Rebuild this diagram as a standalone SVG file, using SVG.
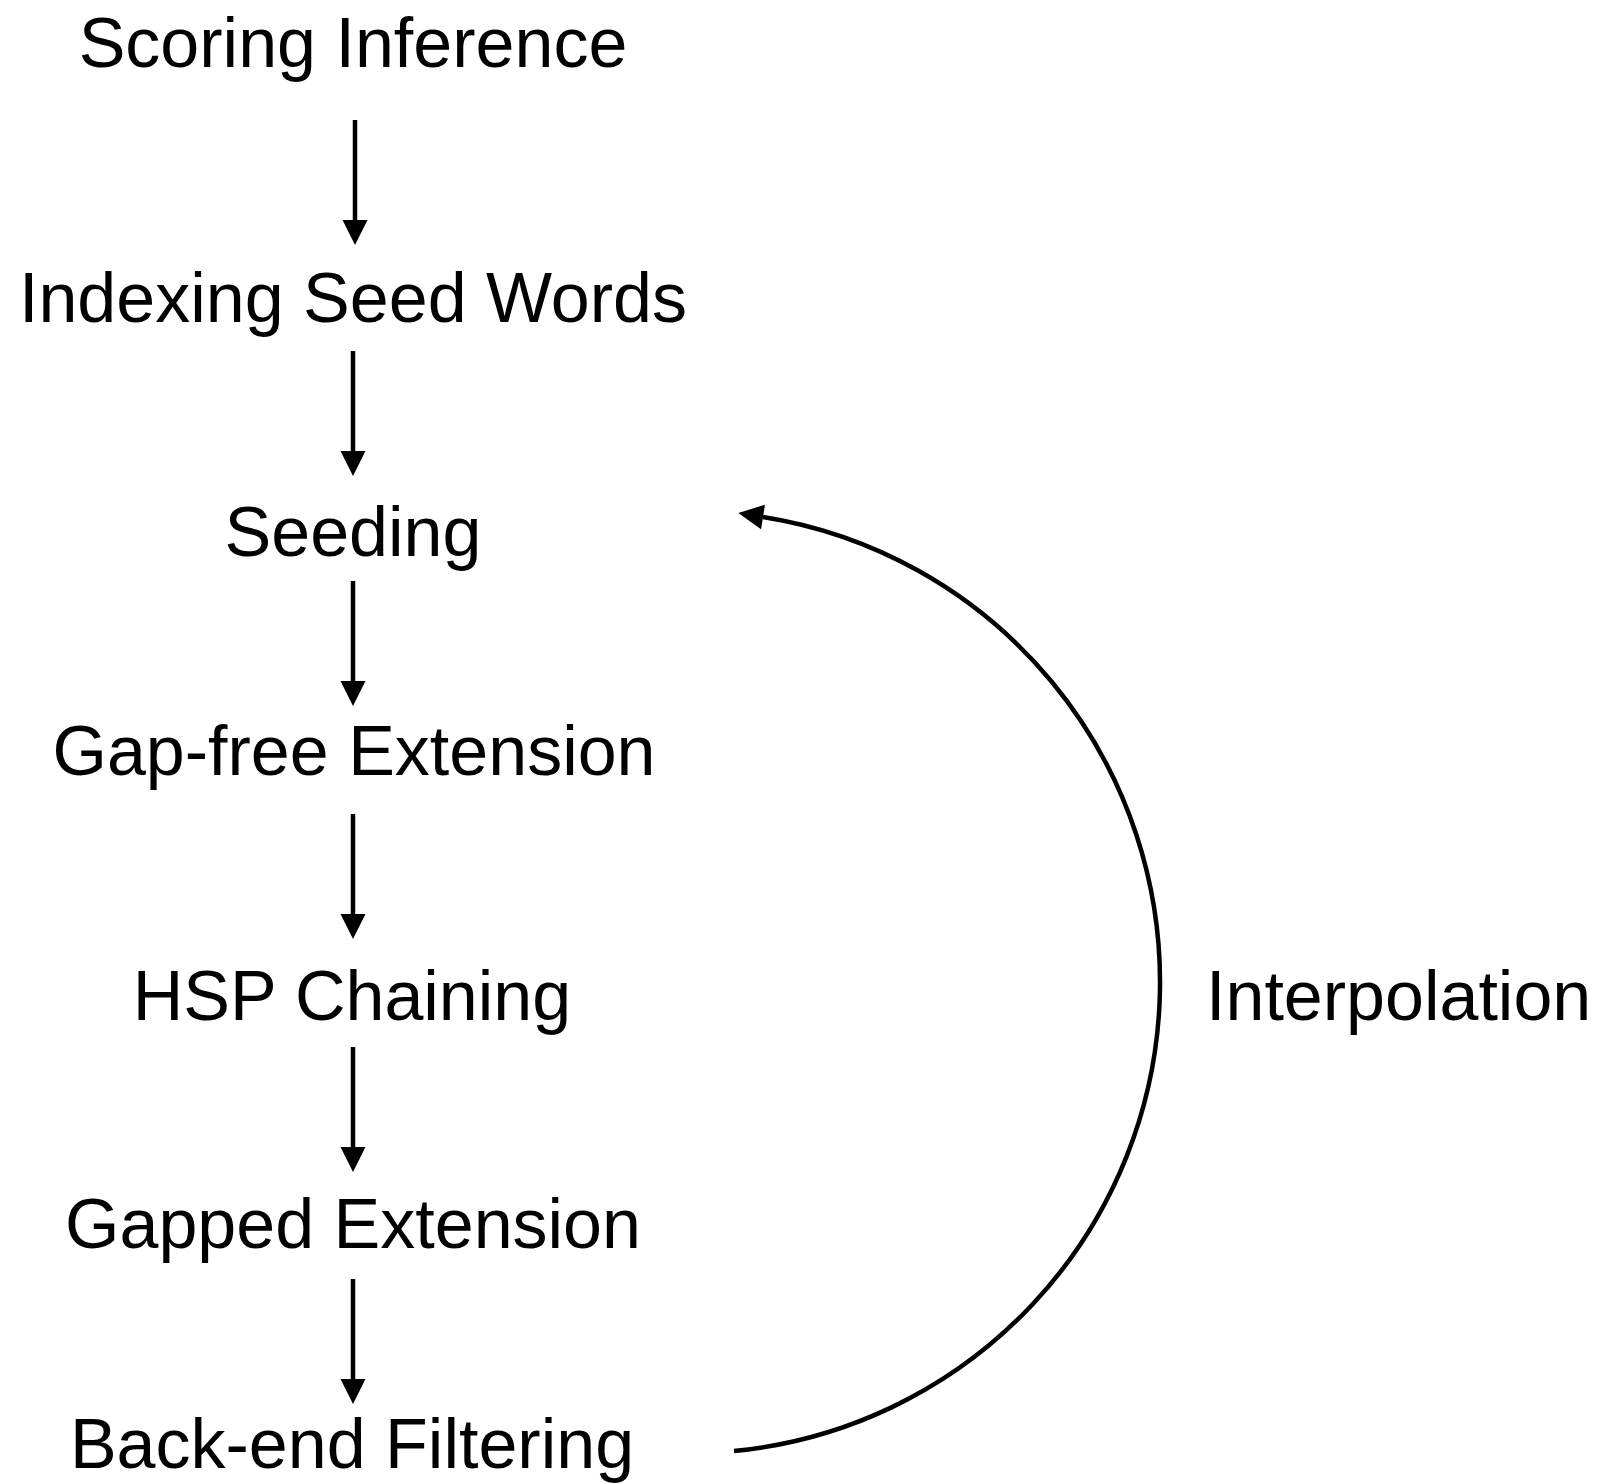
<svg xmlns="http://www.w3.org/2000/svg" width="1621" height="1484" viewBox="0 0 1621 1484">
  <style>
    .label { font-family: "Liberation Sans", "Helvetica Neue", Arial, sans-serif; font-size: 70px; fill: #000; }
    .mid { text-anchor: middle; }
    .edge { stroke: #000; stroke-width: 4.5; fill: none; }
  </style>
  <defs>
    <marker id="head" markerUnits="userSpaceOnUse" markerWidth="26" markerHeight="26" refX="0" refY="12.5" orient="auto" overflow="visible">
      <path d="M0,0 L25,12.5 L0,25 z" fill="#000"/>
    </marker>
  </defs>
  <rect width="1621" height="1484" fill="#fff"/>

  <g id="scoring-inference"><text class="label mid" x="353" y="67">Scoring Inference</text></g>
  <g id="indexing-seed-words"><text class="label mid" x="353" y="322">Indexing Seed Words</text></g>
  <g id="seeding"><text class="label mid" x="353" y="556">Seeding</text></g>
  <g id="gap-free-extension"><text class="label mid" x="354" y="775">Gap-free Extension</text></g>
  <g id="hsp-chaining"><text class="label mid" x="352" y="1020">HSP Chaining</text></g>
  <g id="gapped-extension"><text class="label mid" x="353" y="1248">Gapped Extension</text></g>
  <g id="back-end-filtering"><text class="label mid" x="352" y="1468">Back-end Filtering</text></g>
  <g id="interpolation"><text class="label" x="1206" y="1020">Interpolation</text></g>

  <g id="connectors">
    <line class="edge" x1="355" y1="120" x2="355" y2="220" marker-end="url(#head)"/>
    <line class="edge" x1="353" y1="351" x2="353" y2="451" marker-end="url(#head)"/>
    <line class="edge" x1="353" y1="581" x2="353" y2="681" marker-end="url(#head)"/>
    <line class="edge" x1="353" y1="814" x2="353" y2="914" marker-end="url(#head)"/>
    <line class="edge" x1="353" y1="1047" x2="353" y2="1147" marker-end="url(#head)"/>
    <line class="edge" x1="353" y1="1279" x2="353" y2="1379" marker-end="url(#head)"/>
    <path class="edge" d="M734,1451 A471,471 0 0,0 763,517" marker-end="url(#head)"/>
  </g>
</svg>
